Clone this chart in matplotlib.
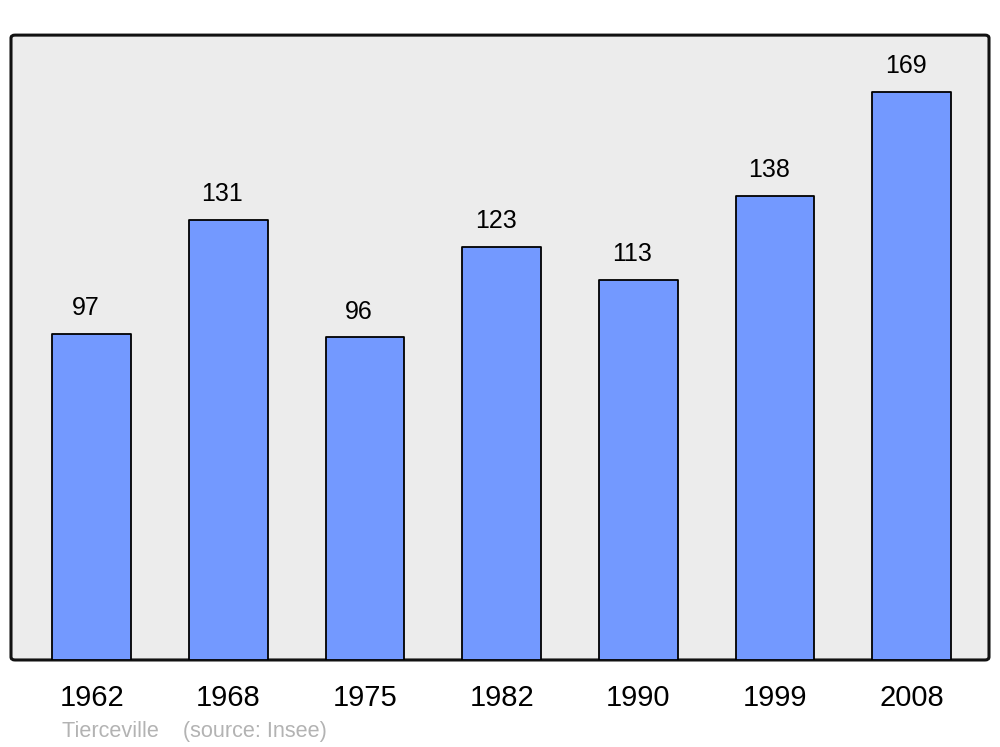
import matplotlib.pyplot as plt
from matplotlib.patches import FancyBboxPatch

years = ['1962', '1968', '1975', '1982', '1990', '1999', '2008']
population = [97, 131, 96, 123, 113, 138, 169]

plt.rcParams['font.family'] = ['Liberation Sans', 'DejaVu Sans']

fig = plt.figure(figsize=(10, 7.47), dpi=100)
ax = fig.add_axes([0.011, 0.1165, 0.978, 0.8365])
ax.set_facecolor('none')

# rounded grey frame behind the axes
frame = FancyBboxPatch((0.011, 0.1165), 0.978, 0.8365,
                       boxstyle='round,pad=0,rounding_size=0.004',
                       transform=fig.transFigure, facecolor='#ececec',
                       edgecolor='#111111', linewidth=2.2, zorder=-1)
fig.patches.append(frame)

x = range(len(years))
bars = ax.bar(x, population, width=0.575, color='#7399ff',
              edgecolor='black', linewidth=1.3, zorder=2)
for b in bars:
    b.set_joinstyle('round')

# value labels sit a little left of the bar centre in the original
for xi, v in zip(x, population):
    ax.annotate(str(v), (xi, v), xytext=(-4.3, 10), textcoords='offset points',
                ha='center', va='bottom', fontsize=18)

ax.set_xlim(-0.59, 6.565)
ax.set_ylim(0, 186)
ax.set_yticks([])
ax.set_xticks(list(x))
ax.set_xticklabels(years, fontsize=21)
ax.tick_params(axis='x', length=0, pad=17)
for s in ax.spines.values():
    s.set_visible(False)

fig.text(0.062, 0.014, 'Tierceville    (source: Insee)', color='#b3b3b3',
         fontsize=15.6, ha='left', va='baseline')

fig.savefig('out.png', dpi=100)
